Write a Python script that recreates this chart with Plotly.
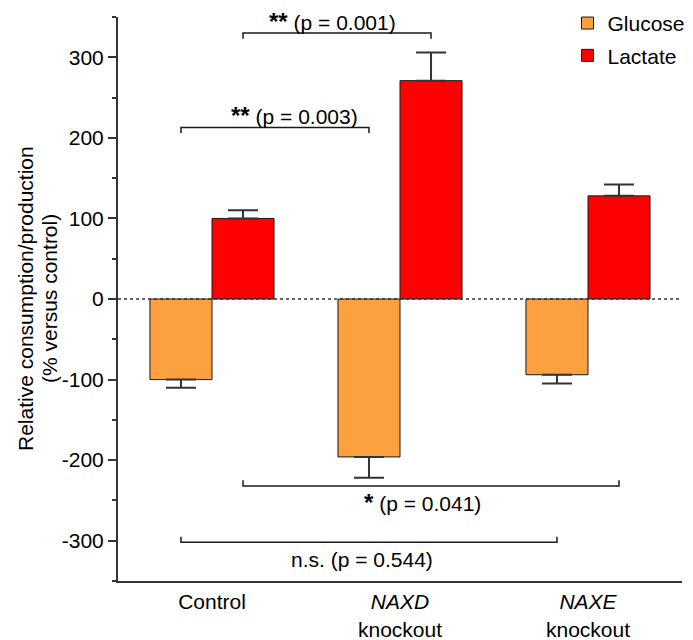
import plotly.graph_objects as go

# ---- data ----
categories = ["Control", "<i>NAXD</i><br>knockout", "<i>NAXE</i><br>knockout"]
cat_pos = [0, 1, 2]
glucose = [-100, -196, -94]
glucose_err = [10, 26, 11]
lactate = [100, 271, 128]
lactate_err = [10, 35, 14]
y_ticks = [-300, -200, -100, 0, 100, 200, 300]
y_tick_text = ["-300", "-200", "-100", "0", "100", "200", "300"]

# significance comparisons: (category index, series) pairs
bracket_from = [(0, "Lactate"), (0, "Glucose"), (0, "Lactate"), (0, "Glucose")]
bracket_to = [(1, "Lactate"), (1, "Glucose"), (2, "Lactate"), (2, "Glucose")]
bracket_y = [330, 213, -232, -302]
bracket_dir = [-1, -1, 1, 1]
bracket_stars = ["**", "**", "*", ""]
bracket_p = ["(p = 0.001)", "(p = 0.003)", "(p = 0.041)", "n.s. (p = 0.544)"]
label_x = [0.64, 0.44, 1.12, 0.80]
label_y = [344, 228, -253, -323]

FONT = "Liberation Sans, Arial, sans-serif"
FS = 21
BARGAP = 0.34
offset = {"Glucose": -(1 - BARGAP) / 4, "Lactate": (1 - BARGAP) / 4}

fig = go.Figure()
fig.add_trace(go.Bar(
    name="Glucose", x=cat_pos, y=glucose,
    marker=dict(color="#FCA040", line=dict(color="#1a1a1a", width=1)),
    error_y=dict(type="data", symmetric=False, array=[0, 0, 0],
                 arrayminus=glucose_err, color="#333333", thickness=2, width=15),
    legendgroup="g",
))
fig.add_trace(go.Bar(
    name="Lactate", x=cat_pos, y=lactate,
    marker=dict(color="#FF0000", line=dict(color="#1a1a1a", width=1)),
    error_y=dict(type="data", symmetric=False, array=lactate_err,
                 arrayminus=[0, 0, 0], color="#333333", thickness=2, width=15),
    legendgroup="l",
))

shapes = []
# dotted zero line
shapes.append(dict(type="line", xref="paper", yref="y", x0=0, x1=1, y0=0, y1=0,
                   line=dict(color="#333333", width=1.5, dash="dot"), layer="above"))
tick_h = 7
for (c0, s0), (c1, s1), yb, d in zip(bracket_from, bracket_to, bracket_y, bracket_dir):
    xa = c0 + offset[s0]
    xb = c1 + offset[s1]
    shapes.append(dict(
        type="path", xref="x", yref="y",
        path=f"M {xa},{yb + d * tick_h} L {xa},{yb} L {xb},{yb} L {xb},{yb + d * tick_h}",
        line=dict(color="#1a1a1a", width=1.5),
    ))

annotations = []
for stars, ptxt, lx, ly in zip(bracket_stars, bracket_p, label_x, label_y):
    txt = ptxt
    if stars:
        txt = ('<span style="font-weight:bold;font-size:24px">'
               + stars + "</span> " + ptxt)
    annotations.append(dict(x=lx, y=ly, xref="x", yref="y", text=txt, showarrow=False,
                            font=dict(family=FONT, size=FS, color="#000"),
                            xanchor="center", yanchor="middle"))
# y-axis title lines
annotations.append(dict(x=0, y=0.5, xref="paper", yref="paper",
                        text="Relative consumption/production", textangle=-90,
                        showarrow=False, xanchor="center", yanchor="middle", xshift=-93,
                        font=dict(family=FONT, size=FS, color="#000")))
annotations.append(dict(x=0, y=0.5, xref="paper", yref="paper",
                        text="(% versus control)", textangle=-90,
                        showarrow=False, xanchor="center", yanchor="middle", xshift=-69,
                        font=dict(family=FONT, size=FS, color="#000")))

fig.update_layout(
    width=693, height=640,
    margin=dict(l=118, r=11, t=17, b=59, autoexpand=False),
    paper_bgcolor="white", plot_bgcolor="white",
    barmode="group", bargap=BARGAP, bargroupgap=0,
    font=dict(family=FONT, size=FS, color="#000"),
    shapes=shapes, annotations=annotations,
    legend=dict(x=0.797, y=1.025, xanchor="left", yanchor="top",
                font=dict(family=FONT, size=FS), tracegroupgap=2,
                bgcolor="rgba(0,0,0,0)", itemwidth=30),
    showlegend=True,
)
fig.update_xaxes(
    range=[-0.5, 2.5], tickvals=cat_pos, ticktext=categories,
    showline=True, linecolor="#333333", linewidth=2, ticks="",
    showgrid=False, zeroline=False, ticklabelstandoff=1, automargin=False,
    tickfont=dict(family=FONT, size=FS, color="#000"),
)
fig.update_yaxes(
    range=[-350, 350], tickvals=y_ticks, ticktext=y_tick_text,
    showline=True, linecolor="#333333", linewidth=2,
    ticks="outside", ticklen=8, tickwidth=2, tickcolor="#333333",
    minor=dict(dtick=50, ticks="outside", ticklen=4, tickwidth=2, tickcolor="#333333"),
    showgrid=False, zeroline=False, automargin=False,
    tickfont=dict(family=FONT, size=FS, color="#000"),
)

fig.write_html("out.html")
